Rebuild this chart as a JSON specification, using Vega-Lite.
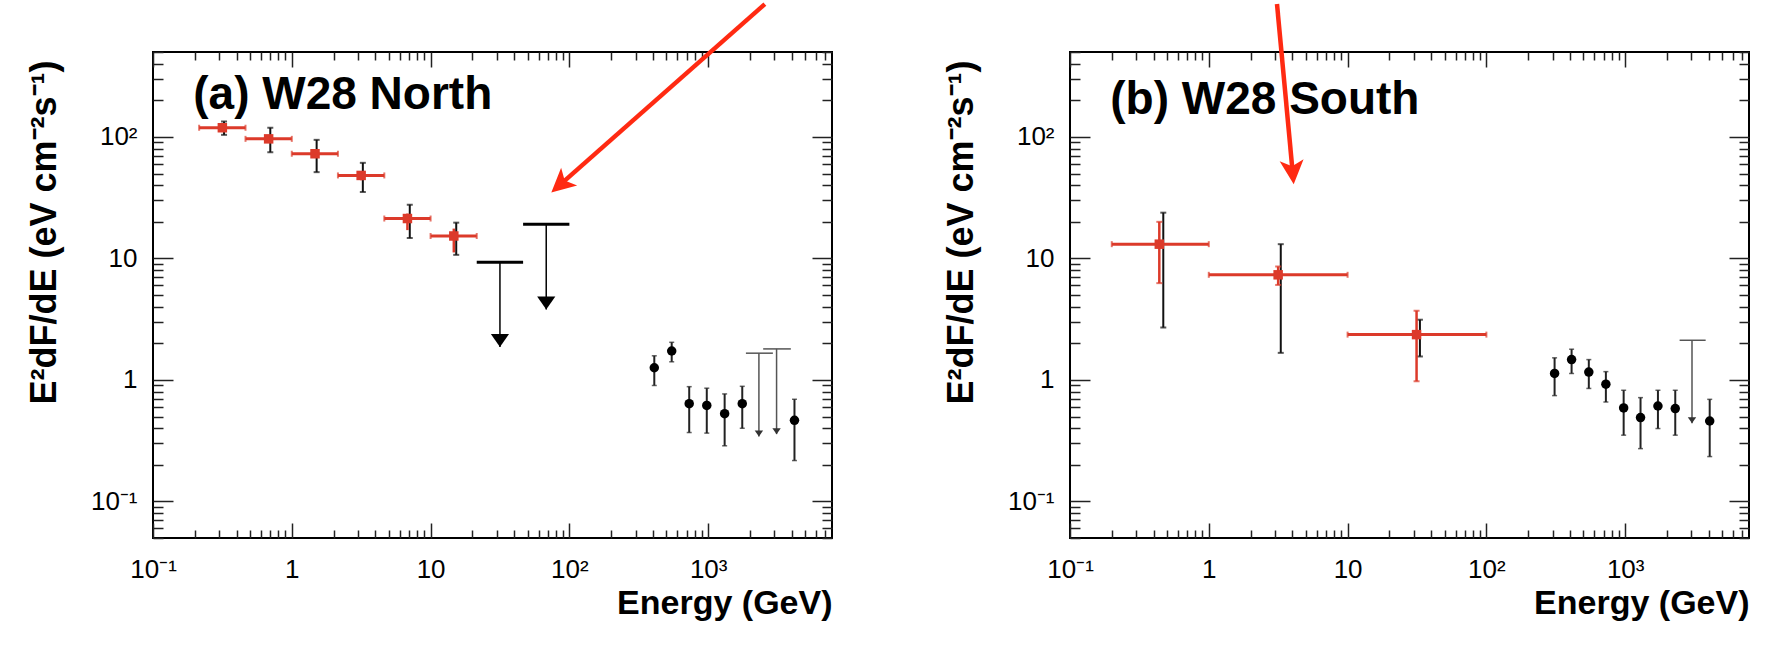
{
  "$schema": "https://vega.github.io/schema/vega-lite/v6.json",
  "autosize": {"type": "pad"},
  "padding": {"left": 25, "top": 0, "right": 0, "bottom": 0},
  "background": "white",
  "spacing": 238,
  "bounds": "flush",
  "config": {
    "view": {"stroke": "black", "strokeWidth": 2},
    "axis": {"grid": false, "labelFont": "Liberation Sans", "titleFont": "Liberation Sans", "labelColor": "black", "titleColor": "black", "tickColor": "#222", "tickWidth": 1.5}
  },
  "datasets": {
    "fermiA": [
      {"e": 0.316, "elo": 0.215, "ehi": 0.464, "f": 119, "slo": 112, "shi": 126, "tlo": 104, "thi": 134, "ex": 0.325},
      {"e": 0.681, "elo": 0.464, "ehi": 1.0, "f": 96.4, "slo": 90, "shi": 103, "tlo": 74.8, "thi": 119, "ex": 0.7},
      {"e": 1.47, "elo": 1.0, "ehi": 2.15, "f": 72.7, "slo": 67, "shi": 78, "tlo": 51.3, "thi": 94.6, "ex": 1.51},
      {"e": 3.16, "elo": 2.15, "ehi": 4.64, "f": 48.2, "slo": 44, "shi": 52, "tlo": 35.2, "thi": 61.2, "ex": 3.25},
      {"e": 6.81, "elo": 4.64, "ehi": 10, "f": 21.3, "slo": 17.1, "shi": 23.4, "tlo": 14.7, "thi": 27.7, "ex": 7.08},
      {"e": 14.7, "elo": 10, "ehi": 21.5, "f": 15.3, "slo": 11.2, "shi": 17.6, "tlo": 10.7, "thi": 19.7, "ex": 15.3}
    ],
    "ulA": [
      {"e": 31.6, "elo": 21.5, "ehi": 46.4, "f": 9.31, "tip": 1.87},
      {"e": 68.1, "elo": 46.4, "ehi": 100, "f": 19.1, "tip": 3.8}
    ],
    "tevA": [
      {"e": 409, "f": 1.26, "lo": 0.90, "hi": 1.58},
      {"e": 546, "f": 1.73, "lo": 1.41, "hi": 2.04},
      {"e": 730, "f": 0.637, "lo": 0.369, "hi": 0.88},
      {"e": 977, "f": 0.617, "lo": 0.365, "hi": 0.855},
      {"e": 1314, "f": 0.527, "lo": 0.287, "hi": 0.767},
      {"e": 1760, "f": 0.637, "lo": 0.40, "hi": 0.886},
      {"e": 4185, "f": 0.465, "lo": 0.217, "hi": 0.693}
    ],
    "tevulA": [
      {"e": 2320, "elo": 1870, "ehi": 2925, "f": 1.66, "tip": 0.343},
      {"e": 3110, "elo": 2490, "ehi": 3940, "f": 1.80, "tip": 0.358}
    ],
    "fermiB": [
      {"e": 0.44, "elo": 0.2, "ehi": 1.0, "f": 13.1, "slo": 6.26, "shi": 20.0, "tlo": 2.70, "thi": 23.8, "ex": 0.47},
      {"e": 3.16, "elo": 1.0, "ehi": 10, "f": 7.33, "slo": 6.05, "shi": 8.58, "tlo": 1.67, "thi": 13.1, "ex": 3.30},
      {"e": 31.4, "elo": 10, "ehi": 100, "f": 2.36, "slo": 0.975, "shi": 3.71, "tlo": 1.56, "thi": 3.13, "ex": 33.2}
    ],
    "tevB": [
      {"e": 310, "f": 1.13, "lo": 0.743, "hi": 1.52},
      {"e": 411, "f": 1.47, "lo": 1.13, "hi": 1.79},
      {"e": 547, "f": 1.16, "lo": 0.851, "hi": 1.47},
      {"e": 726, "f": 0.923, "lo": 0.658, "hi": 1.17},
      {"e": 975, "f": 0.588, "lo": 0.351, "hi": 0.822},
      {"e": 1290, "f": 0.49, "lo": 0.272, "hi": 0.715},
      {"e": 1722, "f": 0.61, "lo": 0.398, "hi": 0.822},
      {"e": 2295, "f": 0.581, "lo": 0.351, "hi": 0.822},
      {"e": 4064, "f": 0.459, "lo": 0.234, "hi": 0.692}
    ],
    "tevulB": [
      {"e": 3030, "elo": 2467, "ehi": 3800, "f": 2.12, "tip": 0.44}
    ],
    "labelA": [{"x": 0.195, "y": 169, "text": "(a) W28 North"}],
    "labelB": [{"x": 0.195, "y": 153, "text": "(b) W28 South"}],
    "arrowA": [{"xs": 2560, "ys": 1240, "xe": 85.9, "ye": 40.5, "xt": 74.1, "yt": 34.8}],
    "arrowB": [{"xs": 3.10, "ys": 1240, "xe": 4.02, "ye": 51.2, "xt": 4.09, "yt": 40.8}]
  },
  "hconcat": [
    {
      "width": 679,
      "height": 486,
      "resolve": {"axis": {"x": "independent", "y": "independent"}},
      "layer": [
        {
          "data": {"name": "fermiA"},
          "mark": {"type": "rule", "color": "#dc3a2a", "strokeWidth": 3},
          "encoding": {
            "x": {"field": "elo", "type": "quantitative", "scale": {"type": "log", "domain": [0.1, 7800], "nice": false},
              "axis": {"orient": "bottom", "values": [0.1, 1, 10, 100, 1000], "ticks": false, "domain": false, "labelFlush": false, "labelOverlap": false, "labelFontSize": 26, "labelPadding": 18,
                "labelExpr": "datum.value < 0.5 ? '10⁻¹' : datum.value < 5 ? '1' : datum.value < 50 ? '10' : datum.value < 500 ? '10²' : '10³'",
                "title": "Energy (GeV)", "titleAnchor": "end", "titleAlign": "right", "titleFontSize": 34, "titleFontWeight": "bold", "titlePadding": 4}},
            "x2": {"field": "ehi"},
            "y": {"field": "f", "type": "quantitative", "scale": {"type": "log", "domain": [0.05, 500], "nice": false},
              "axis": {"orient": "left", "values": [0.1, 1, 10, 100], "ticks": false, "domain": false, "labelOverlap": false, "labelFontSize": 26, "labelPadding": 16,
                "labelExpr": "datum.value < 0.5 ? '10⁻¹' : datum.value < 5 ? '1' : datum.value < 50 ? '10' : '10²'",
                "title": "E²dF/dE (eV cm⁻²s⁻¹)", "titleAnchor": "end", "titleY": 8, "titleFontSize": 36, "titleFontWeight": "bold", "titlePadding": 27}}
          }
        },
        {
          "data": {"name": "fermiA"},
          "mark": {"type": "tick", "orient": "vertical", "color": "#dc3a2a", "size": 6, "thickness": 2},
          "encoding": {
            "x": {"field": "elo", "type": "quantitative", "scale": {"type": "log", "domain": [0.1, 7800], "nice": false},
              "axis": {"orient": "bottom", "labels": false, "domain": false, "title": null,
                "values": [0.1,0.2,0.3,0.4,0.5,0.6,0.7,0.8,0.9,1,2,3,4,5,6,7,8,9,10,20,30,40,50,60,70,80,90,100,200,300,400,500,600,700,800,900,1000,2000,3000,4000,5000,6000,7000],
                "tickSize": {"condition": {"test": "abs(log(datum.value)/LN10 - round(log(datum.value)/LN10)) < 0.01", "value": -15}, "value": -8}}},
            "y": {"field": "f", "type": "quantitative", "scale": {"type": "log", "domain": [0.05, 500], "nice": false},
              "axis": {"orient": "left", "labels": false, "domain": false, "title": null,
                "values": [0.05,0.06,0.07,0.08,0.09,0.1,0.2,0.3,0.4,0.5,0.6,0.7,0.8,0.9,1,2,3,4,5,6,7,8,9,10,20,30,40,50,60,70,80,90,100,200,300,400,500],
                "tickSize": {"condition": {"test": "abs(log(datum.value)/LN10 - round(log(datum.value)/LN10)) < 0.01", "value": -20}, "value": -10}}}
          }
        },
        {
          "data": {"name": "fermiA"},
          "mark": {"type": "tick", "orient": "vertical", "color": "#dc3a2a", "size": 6, "thickness": 2},
          "encoding": {
            "x": {"field": "ehi", "type": "quantitative", "scale": {"type": "log", "domain": [0.1, 7800], "nice": false},
              "axis": {"orient": "top", "labels": false, "domain": false, "title": null,
                "values": [0.1,0.2,0.3,0.4,0.5,0.6,0.7,0.8,0.9,1,2,3,4,5,6,7,8,9,10,20,30,40,50,60,70,80,90,100,200,300,400,500,600,700,800,900,1000,2000,3000,4000,5000,6000,7000],
                "tickSize": {"condition": {"test": "abs(log(datum.value)/LN10 - round(log(datum.value)/LN10)) < 0.01", "value": -15}, "value": -8}}},
            "y": {"field": "f", "type": "quantitative", "scale": {"type": "log", "domain": [0.05, 500], "nice": false},
              "axis": {"orient": "right", "labels": false, "domain": false, "title": null,
                "values": [0.05,0.06,0.07,0.08,0.09,0.1,0.2,0.3,0.4,0.5,0.6,0.7,0.8,0.9,1,2,3,4,5,6,7,8,9,10,20,30,40,50,60,70,80,90,100,200,300,400,500],
                "tickSize": {"condition": {"test": "abs(log(datum.value)/LN10 - round(log(datum.value)/LN10)) < 0.01", "value": -20}, "value": -10}}}
          }
        },
        {
          "data": {"name": "fermiA"},
          "mark": {"type": "rule", "color": "#111", "strokeWidth": 2},
          "encoding": {
            "x": {"field": "ex", "type": "quantitative", "scale": {"type": "log"}, "axis": null},
            "y": {"field": "tlo", "type": "quantitative", "scale": {"type": "log"}, "axis": null},
            "y2": {"field": "thi"}
          }
        },
        {
          "data": {"name": "fermiA"},
          "mark": {"type": "tick", "orient": "horizontal", "color": "#111", "size": 6, "thickness": 2},
          "encoding": {
            "x": {"field": "ex", "type": "quantitative", "scale": {"type": "log"}, "axis": null},
            "y": {"field": "tlo", "type": "quantitative", "scale": {"type": "log"}, "axis": null}
          }
        },
        {
          "data": {"name": "fermiA"},
          "mark": {"type": "tick", "orient": "horizontal", "color": "#111", "size": 6, "thickness": 2},
          "encoding": {
            "x": {"field": "ex", "type": "quantitative", "scale": {"type": "log"}, "axis": null},
            "y": {"field": "thi", "type": "quantitative", "scale": {"type": "log"}, "axis": null}
          }
        },
        {
          "data": {"name": "fermiA"},
          "mark": {"type": "rule", "color": "#dc3a2a", "strokeWidth": 2.5},
          "encoding": {
            "x": {"field": "e", "type": "quantitative", "scale": {"type": "log"}, "axis": null},
            "y": {"field": "slo", "type": "quantitative", "scale": {"type": "log"}, "axis": null},
            "y2": {"field": "shi"}
          }
        },
        {
          "data": {"name": "fermiA"},
          "mark": {"type": "point", "shape": "square", "filled": true, "color": "#dc3a2a", "opacity": 1, "size": 90},
          "encoding": {
            "x": {"field": "e", "type": "quantitative", "scale": {"type": "log"}, "axis": null},
            "y": {"field": "f", "type": "quantitative", "scale": {"type": "log"}, "axis": null}
          }
        },
        {
          "data": {"name": "ulA"},
          "mark": {"type": "rule", "color": "black", "strokeWidth": 3},
          "encoding": {
            "x": {"field": "elo", "type": "quantitative", "scale": {"type": "log"}, "axis": null},
            "x2": {"field": "ehi"},
            "y": {"field": "f", "type": "quantitative", "scale": {"type": "log"}, "axis": null}
          }
        },
        {
          "data": {"name": "ulA"},
          "mark": {"type": "rule", "color": "black", "strokeWidth": 1.5},
          "encoding": {
            "x": {"field": "e", "type": "quantitative", "scale": {"type": "log"}, "axis": null},
            "y": {"field": "tip", "type": "quantitative", "scale": {"type": "log"}, "axis": null},
            "y2": {"field": "f"}
          }
        },
        {
          "data": {"name": "ulA"},
          "mark": {"type": "point", "shape": "M0,0L-0.7,-1L0.7,-1Z", "filled": true, "color": "black", "opacity": 1, "size": 676},
          "encoding": {
            "x": {"field": "e", "type": "quantitative", "scale": {"type": "log"}, "axis": null},
            "y": {"field": "tip", "type": "quantitative", "scale": {"type": "log"}, "axis": null}
          }
        },
        {
          "data": {"name": "tevA"},
          "mark": {"type": "rule", "color": "#222", "strokeWidth": 2},
          "encoding": {
            "x": {"field": "e", "type": "quantitative", "scale": {"type": "log"}, "axis": null},
            "y": {"field": "lo", "type": "quantitative", "scale": {"type": "log"}, "axis": null},
            "y2": {"field": "hi"}
          }
        },
        {
          "data": {"name": "tevA"},
          "mark": {"type": "tick", "orient": "horizontal", "color": "#222", "size": 5, "thickness": 1.5},
          "encoding": {
            "x": {"field": "e", "type": "quantitative", "scale": {"type": "log"}, "axis": null},
            "y": {"field": "lo", "type": "quantitative", "scale": {"type": "log"}, "axis": null}
          }
        },
        {
          "data": {"name": "tevA"},
          "mark": {"type": "tick", "orient": "horizontal", "color": "#222", "size": 5, "thickness": 1.5},
          "encoding": {
            "x": {"field": "e", "type": "quantitative", "scale": {"type": "log"}, "axis": null},
            "y": {"field": "hi", "type": "quantitative", "scale": {"type": "log"}, "axis": null}
          }
        },
        {
          "data": {"name": "tevA"},
          "mark": {"type": "point", "shape": "circle", "filled": true, "color": "black", "opacity": 1, "size": 90},
          "encoding": {
            "x": {"field": "e", "type": "quantitative", "scale": {"type": "log"}, "axis": null},
            "y": {"field": "f", "type": "quantitative", "scale": {"type": "log"}, "axis": null}
          }
        },
        {
          "data": {"name": "tevulA"},
          "mark": {"type": "rule", "color": "#555", "strokeWidth": 1.5},
          "encoding": {
            "x": {"field": "elo", "type": "quantitative", "scale": {"type": "log"}, "axis": null},
            "x2": {"field": "ehi"},
            "y": {"field": "f", "type": "quantitative", "scale": {"type": "log"}, "axis": null}
          }
        },
        {
          "data": {"name": "tevulA"},
          "mark": {"type": "rule", "color": "#555", "strokeWidth": 1.5},
          "encoding": {
            "x": {"field": "e", "type": "quantitative", "scale": {"type": "log"}, "axis": null},
            "y": {"field": "tip", "type": "quantitative", "scale": {"type": "log"}, "axis": null},
            "y2": {"field": "f"}
          }
        },
        {
          "data": {"name": "tevulA"},
          "mark": {"type": "point", "shape": "M0,0L-0.7,-1L0.7,-1Z", "filled": true, "color": "#333", "opacity": 1, "size": 144},
          "encoding": {
            "x": {"field": "e", "type": "quantitative", "scale": {"type": "log"}, "axis": null},
            "y": {"field": "tip", "type": "quantitative", "scale": {"type": "log"}, "axis": null}
          }
        },
        {
          "data": {"name": "labelA"},
          "mark": {"type": "text", "align": "left", "baseline": "alphabetic", "font": "Liberation Sans", "fontWeight": "bold", "fontSize": 46, "color": "black"},
          "encoding": {
            "x": {"field": "x", "type": "quantitative", "scale": {"type": "log"}, "axis": null},
            "y": {"field": "y", "type": "quantitative", "scale": {"type": "log"}, "axis": null},
            "text": {"field": "text"}
          }
        },
        {
          "data": {"name": "arrowA"},
          "mark": {"type": "rule", "color": "#ff2a12", "strokeWidth": 4.5, "clip": false},
          "encoding": {
            "x": {"field": "xs", "type": "quantitative", "scale": {"type": "log"}, "axis": null},
            "y": {"field": "ys", "type": "quantitative", "scale": {"type": "log"}, "axis": null},
            "x2": {"field": "xe"},
            "y2": {"field": "ye"}
          }
        },
        {
          "data": {"name": "arrowA"},
          "mark": {"type": "point", "shape": "M0,0L-0.5,1L0,0.75L0.5,1Z", "filled": true, "color": "#ff2a12", "opacity": 1, "size": 2304, "angle": 228, "clip": false},
          "encoding": {
            "x": {"field": "xt", "type": "quantitative", "scale": {"type": "log"}, "axis": null},
            "y": {"field": "yt", "type": "quantitative", "scale": {"type": "log"}, "axis": null}
          }
        }
      ]
    },
    {
      "width": 679,
      "height": 486,
      "resolve": {"axis": {"x": "independent", "y": "independent"}},
      "layer": [
        {
          "data": {"name": "fermiB"},
          "mark": {"type": "rule", "color": "#111", "strokeWidth": 2},
          "encoding": {
            "x": {"field": "ex", "type": "quantitative", "scale": {"type": "log", "domain": [0.1, 7800], "nice": false},
              "axis": {"orient": "bottom", "values": [0.1, 1, 10, 100, 1000], "ticks": false, "domain": false, "labelFlush": false, "labelOverlap": false, "labelFontSize": 26, "labelPadding": 18,
                "labelExpr": "datum.value < 0.5 ? '10⁻¹' : datum.value < 5 ? '1' : datum.value < 50 ? '10' : datum.value < 500 ? '10²' : '10³'",
                "title": "Energy (GeV)", "titleAnchor": "end", "titleAlign": "right", "titleFontSize": 34, "titleFontWeight": "bold", "titlePadding": 4}},
            "y": {"field": "tlo", "type": "quantitative", "scale": {"type": "log", "domain": [0.05, 500], "nice": false},
              "axis": {"orient": "left", "values": [0.1, 1, 10, 100], "ticks": false, "domain": false, "labelOverlap": false, "labelFontSize": 26, "labelPadding": 16,
                "labelExpr": "datum.value < 0.5 ? '10⁻¹' : datum.value < 5 ? '1' : datum.value < 50 ? '10' : '10²'",
                "title": "E²dF/dE (eV cm⁻²s⁻¹)", "titleAnchor": "end", "titleY": 8, "titleFontSize": 36, "titleFontWeight": "bold", "titlePadding": 27}},
            "y2": {"field": "thi"}
          }
        },
        {
          "data": {"name": "fermiB"},
          "mark": {"type": "tick", "orient": "horizontal", "color": "#111", "size": 6, "thickness": 2},
          "encoding": {
            "x": {"field": "ex", "type": "quantitative", "scale": {"type": "log", "domain": [0.1, 7800], "nice": false},
              "axis": {"orient": "bottom", "labels": false, "domain": false, "title": null,
                "values": [0.1,0.2,0.3,0.4,0.5,0.6,0.7,0.8,0.9,1,2,3,4,5,6,7,8,9,10,20,30,40,50,60,70,80,90,100,200,300,400,500,600,700,800,900,1000,2000,3000,4000,5000,6000,7000],
                "tickSize": {"condition": {"test": "abs(log(datum.value)/LN10 - round(log(datum.value)/LN10)) < 0.01", "value": -15}, "value": -8}}},
            "y": {"field": "tlo", "type": "quantitative", "scale": {"type": "log", "domain": [0.05, 500], "nice": false},
              "axis": {"orient": "left", "labels": false, "domain": false, "title": null,
                "values": [0.05,0.06,0.07,0.08,0.09,0.1,0.2,0.3,0.4,0.5,0.6,0.7,0.8,0.9,1,2,3,4,5,6,7,8,9,10,20,30,40,50,60,70,80,90,100,200,300,400,500],
                "tickSize": {"condition": {"test": "abs(log(datum.value)/LN10 - round(log(datum.value)/LN10)) < 0.01", "value": -20}, "value": -10}}}
          }
        },
        {
          "data": {"name": "fermiB"},
          "mark": {"type": "tick", "orient": "horizontal", "color": "#111", "size": 6, "thickness": 2},
          "encoding": {
            "x": {"field": "ex", "type": "quantitative", "scale": {"type": "log", "domain": [0.1, 7800], "nice": false},
              "axis": {"orient": "top", "labels": false, "domain": false, "title": null,
                "values": [0.1,0.2,0.3,0.4,0.5,0.6,0.7,0.8,0.9,1,2,3,4,5,6,7,8,9,10,20,30,40,50,60,70,80,90,100,200,300,400,500,600,700,800,900,1000,2000,3000,4000,5000,6000,7000],
                "tickSize": {"condition": {"test": "abs(log(datum.value)/LN10 - round(log(datum.value)/LN10)) < 0.01", "value": -15}, "value": -8}}},
            "y": {"field": "thi", "type": "quantitative", "scale": {"type": "log", "domain": [0.05, 500], "nice": false},
              "axis": {"orient": "right", "labels": false, "domain": false, "title": null,
                "values": [0.05,0.06,0.07,0.08,0.09,0.1,0.2,0.3,0.4,0.5,0.6,0.7,0.8,0.9,1,2,3,4,5,6,7,8,9,10,20,30,40,50,60,70,80,90,100,200,300,400,500],
                "tickSize": {"condition": {"test": "abs(log(datum.value)/LN10 - round(log(datum.value)/LN10)) < 0.01", "value": -20}, "value": -10}}}
          }
        },
        {
          "data": {"name": "fermiB"},
          "mark": {"type": "rule", "color": "#dc3a2a", "strokeWidth": 3},
          "encoding": {
            "x": {"field": "elo", "type": "quantitative", "scale": {"type": "log"}, "axis": null},
            "x2": {"field": "ehi"},
            "y": {"field": "f", "type": "quantitative", "scale": {"type": "log"}, "axis": null}
          }
        },
        {
          "data": {"name": "fermiB"},
          "mark": {"type": "tick", "orient": "vertical", "color": "#dc3a2a", "size": 6, "thickness": 2},
          "encoding": {
            "x": {"field": "elo", "type": "quantitative", "scale": {"type": "log"}, "axis": null},
            "y": {"field": "f", "type": "quantitative", "scale": {"type": "log"}, "axis": null}
          }
        },
        {
          "data": {"name": "fermiB"},
          "mark": {"type": "tick", "orient": "vertical", "color": "#dc3a2a", "size": 6, "thickness": 2},
          "encoding": {
            "x": {"field": "ehi", "type": "quantitative", "scale": {"type": "log"}, "axis": null},
            "y": {"field": "f", "type": "quantitative", "scale": {"type": "log"}, "axis": null}
          }
        },
        {
          "data": {"name": "fermiB"},
          "mark": {"type": "rule", "color": "#dc3a2a", "strokeWidth": 2.5},
          "encoding": {
            "x": {"field": "e", "type": "quantitative", "scale": {"type": "log"}, "axis": null},
            "y": {"field": "slo", "type": "quantitative", "scale": {"type": "log"}, "axis": null},
            "y2": {"field": "shi"}
          }
        },
        {
          "data": {"name": "fermiB"},
          "mark": {"type": "tick", "orient": "horizontal", "color": "#dc3a2a", "size": 6, "thickness": 2},
          "encoding": {
            "x": {"field": "e", "type": "quantitative", "scale": {"type": "log"}, "axis": null},
            "y": {"field": "slo", "type": "quantitative", "scale": {"type": "log"}, "axis": null}
          }
        },
        {
          "data": {"name": "fermiB"},
          "mark": {"type": "tick", "orient": "horizontal", "color": "#dc3a2a", "size": 6, "thickness": 2},
          "encoding": {
            "x": {"field": "e", "type": "quantitative", "scale": {"type": "log"}, "axis": null},
            "y": {"field": "shi", "type": "quantitative", "scale": {"type": "log"}, "axis": null}
          }
        },
        {
          "data": {"name": "fermiB"},
          "mark": {"type": "point", "shape": "square", "filled": true, "color": "#dc3a2a", "opacity": 1, "size": 90},
          "encoding": {
            "x": {"field": "e", "type": "quantitative", "scale": {"type": "log"}, "axis": null},
            "y": {"field": "f", "type": "quantitative", "scale": {"type": "log"}, "axis": null}
          }
        },
        {
          "data": {"name": "tevB"},
          "mark": {"type": "rule", "color": "#222", "strokeWidth": 2},
          "encoding": {
            "x": {"field": "e", "type": "quantitative", "scale": {"type": "log"}, "axis": null},
            "y": {"field": "lo", "type": "quantitative", "scale": {"type": "log"}, "axis": null},
            "y2": {"field": "hi"}
          }
        },
        {
          "data": {"name": "tevB"},
          "mark": {"type": "tick", "orient": "horizontal", "color": "#222", "size": 5, "thickness": 1.5},
          "encoding": {
            "x": {"field": "e", "type": "quantitative", "scale": {"type": "log"}, "axis": null},
            "y": {"field": "lo", "type": "quantitative", "scale": {"type": "log"}, "axis": null}
          }
        },
        {
          "data": {"name": "tevB"},
          "mark": {"type": "tick", "orient": "horizontal", "color": "#222", "size": 5, "thickness": 1.5},
          "encoding": {
            "x": {"field": "e", "type": "quantitative", "scale": {"type": "log"}, "axis": null},
            "y": {"field": "hi", "type": "quantitative", "scale": {"type": "log"}, "axis": null}
          }
        },
        {
          "data": {"name": "tevB"},
          "mark": {"type": "point", "shape": "circle", "filled": true, "color": "black", "opacity": 1, "size": 90},
          "encoding": {
            "x": {"field": "e", "type": "quantitative", "scale": {"type": "log"}, "axis": null},
            "y": {"field": "f", "type": "quantitative", "scale": {"type": "log"}, "axis": null}
          }
        },
        {
          "data": {"name": "tevulB"},
          "mark": {"type": "rule", "color": "#555", "strokeWidth": 1.5},
          "encoding": {
            "x": {"field": "elo", "type": "quantitative", "scale": {"type": "log"}, "axis": null},
            "x2": {"field": "ehi"},
            "y": {"field": "f", "type": "quantitative", "scale": {"type": "log"}, "axis": null}
          }
        },
        {
          "data": {"name": "tevulB"},
          "mark": {"type": "rule", "color": "#555", "strokeWidth": 1.5},
          "encoding": {
            "x": {"field": "e", "type": "quantitative", "scale": {"type": "log"}, "axis": null},
            "y": {"field": "tip", "type": "quantitative", "scale": {"type": "log"}, "axis": null},
            "y2": {"field": "f"}
          }
        },
        {
          "data": {"name": "tevulB"},
          "mark": {"type": "point", "shape": "M0,0L-0.7,-1L0.7,-1Z", "filled": true, "color": "#333", "opacity": 1, "size": 144},
          "encoding": {
            "x": {"field": "e", "type": "quantitative", "scale": {"type": "log"}, "axis": null},
            "y": {"field": "tip", "type": "quantitative", "scale": {"type": "log"}, "axis": null}
          }
        },
        {
          "data": {"name": "labelB"},
          "mark": {"type": "text", "align": "left", "baseline": "alphabetic", "font": "Liberation Sans", "fontWeight": "bold", "fontSize": 46, "color": "black"},
          "encoding": {
            "x": {"field": "x", "type": "quantitative", "scale": {"type": "log"}, "axis": null},
            "y": {"field": "y", "type": "quantitative", "scale": {"type": "log"}, "axis": null},
            "text": {"field": "text"}
          }
        },
        {
          "data": {"name": "arrowB"},
          "mark": {"type": "rule", "color": "#ff2a12", "strokeWidth": 4.5, "clip": false},
          "encoding": {
            "x": {"field": "xs", "type": "quantitative", "scale": {"type": "log"}, "axis": null},
            "y": {"field": "ys", "type": "quantitative", "scale": {"type": "log"}, "axis": null},
            "x2": {"field": "xe"},
            "y2": {"field": "ye"}
          }
        },
        {
          "data": {"name": "arrowB"},
          "mark": {"type": "point", "shape": "M0,0L-0.5,1L0,0.75L0.5,1Z", "filled": true, "color": "#ff2a12", "opacity": 1, "size": 2304, "angle": 175, "clip": false},
          "encoding": {
            "x": {"field": "xt", "type": "quantitative", "scale": {"type": "log"}, "axis": null},
            "y": {"field": "yt", "type": "quantitative", "scale": {"type": "log"}, "axis": null}
          }
        }
      ]
    }
  ]
}
